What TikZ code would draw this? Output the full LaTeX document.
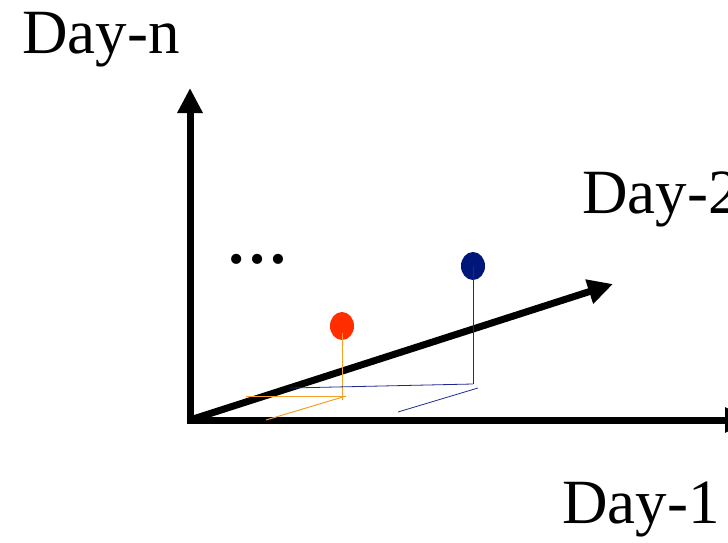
\documentclass[tikz,border=0pt]{standalone}
\usepackage{fontspec}
\setmainfont{Liberation Serif}
\usetikzlibrary{arrows.meta,shapes.geometric}

\definecolor{dotred}{RGB}{255,45,0}
\definecolor{dotblue}{RGB}{0,22,120}
\definecolor{stemorange}{RGB}{245,160,40}
\definecolor{stemblue}{RGB}{30,40,140}

\begin{document}
\begin{tikzpicture}[x=1pt, y=-1pt, font=\fontsize{63}{70}\selectfont,
    axis/.style={line width=7pt, -{Triangle[length=25pt,width=24pt]}},
    label/.style={anchor=base west, inner sep=0pt},
    point/.style={shape=ellipse, inner sep=0pt, minimum width=24pt, minimum height=28pt}]
    \useasboundingbox (0,0) rectangle (728,543);

    \coordinate (o) at (190,420);
    \coordinate (ntip) at (190,88);
    \coordinate (onetip) at (750,420);
    \coordinate (twotip) at (613,284);

    \node (dayn) [label] at (22,53) {Day-n};
    \node (day2) [label] at (582,213) {Day-2};
    \node (day1) [label] at (562,523) {Day-1};
    \node (more) [anchor=base, inner sep=0pt, font=\fontsize{62}{70}\selectfont\bfseries] at (257,263) {…};

    \draw [axis] (190,423.5) -- (ntip);
    \draw [axis] (186.5,420) -- (onetip);
    \draw [axis] (o) -- (twotip);

    \node (red) [point, fill=dotred] at (342,326) {};
    \node (blue) [point, fill=dotblue] at (473,266) {};

    % orange projection
    \coordinate (rfoot) at (346,396);
    \draw [stemorange, line width=1pt] (342,333) -- (342,400);
    \draw [stemorange, line width=1pt] (246,396) -- (rfoot);
    \draw [stemorange, line width=1pt] (rfoot) -- (266,420);

    % blue projection
    \coordinate (bfoot) at (473,384);
    \draw [stemblue, line width=0.8pt] (blue.center) -- (bfoot);
    \draw [stemblue, line width=0.8pt] (bfoot) -- (290,388);
    \draw [stemblue, line width=0.8pt] (478,388) -- (398,412);
\end{tikzpicture}
\end{document}
